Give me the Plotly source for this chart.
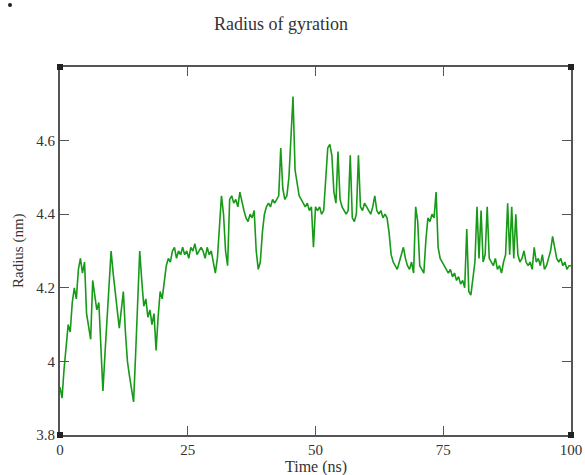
import plotly.graph_objects as go

time_step_ns = 0.4
radius_nm = [
    3.93, 3.90, 3.98, 4.05, 4.10, 4.08, 4.16, 4.20, 4.17, 4.25,
    4.28, 4.24, 4.27, 4.13, 4.10, 4.06, 4.22, 4.18, 4.14, 4.16,
    4.05, 3.92, 4.02, 4.11, 4.18, 4.30, 4.24, 4.19, 4.14, 4.09,
    4.14, 4.19, 4.08, 4.00, 3.96, 3.93, 3.89, 4.02, 4.14, 4.30,
    4.22, 4.15, 4.17, 4.12, 4.14, 4.10, 4.13, 4.03, 4.12, 4.19,
    4.17, 4.21, 4.26, 4.28, 4.27, 4.30, 4.31, 4.28, 4.30, 4.29,
    4.31, 4.29, 4.30, 4.28, 4.31, 4.30, 4.32, 4.29, 4.30, 4.31,
    4.30, 4.28, 4.31, 4.29, 4.30, 4.27, 4.24, 4.28, 4.38, 4.45,
    4.40, 4.30, 4.26, 4.44, 4.45, 4.43, 4.44, 4.42, 4.46, 4.43,
    4.41, 4.39, 4.38, 4.40, 4.39, 4.41, 4.30, 4.25, 4.27, 4.35,
    4.40, 4.42, 4.43, 4.42, 4.44, 4.43, 4.44, 4.45, 4.58, 4.47,
    4.44, 4.45, 4.50, 4.61, 4.72, 4.52, 4.48, 4.45, 4.44, 4.43,
    4.42, 4.43, 4.41, 4.42, 4.31, 4.42, 4.41, 4.42, 4.40, 4.41,
    4.50, 4.58, 4.59, 4.56, 4.46, 4.43, 4.57, 4.44, 4.42, 4.41,
    4.40, 4.41, 4.56, 4.39, 4.38, 4.40, 4.56, 4.42, 4.41, 4.43,
    4.42, 4.41, 4.40, 4.42, 4.45, 4.41, 4.40, 4.41, 4.39, 4.40,
    4.39, 4.35, 4.29, 4.27, 4.26, 4.25, 4.27, 4.29, 4.31, 4.28,
    4.26, 4.25, 4.27, 4.24, 4.42, 4.38, 4.26, 4.25, 4.24, 4.33,
    4.39, 4.38, 4.40, 4.39, 4.46, 4.31, 4.28, 4.27, 4.26, 4.25,
    4.24, 4.25, 4.23, 4.24, 4.22, 4.23, 4.21, 4.22, 4.20, 4.36,
    4.19, 4.18, 4.23, 4.27, 4.42, 4.28, 4.41, 4.27, 4.29, 4.42,
    4.28, 4.27, 4.26, 4.28, 4.25, 4.26, 4.24, 4.27, 4.29, 4.43,
    4.29, 4.42, 4.28, 4.40, 4.29, 4.27, 4.28, 4.30, 4.27, 4.26,
    4.27, 4.25, 4.31, 4.27, 4.28, 4.26, 4.29, 4.25, 4.26, 4.28,
    4.30, 4.34, 4.31, 4.28, 4.27, 4.28, 4.26, 4.27, 4.25, 4.26,
    4.26,
]
time_ns = [round(i * time_step_ns, 2) for i in range(len(radius_nm))]

x_tick_vals = [0, 25, 50, 75, 100]
x_tick_text = ["0", "25", "50", "75", "100"]
y_tick_vals = [3.8, 4.0, 4.2, 4.4, 4.6]
y_tick_text = ["3.8", "4", "4.2", "4.4", "4.6"]

FONT = "Liberation Serif, Times New Roman, serif"
AXIS_COLOR = "#555555"
TEXT_COLOR = "#333333"

FIG_W, FIG_H = 585, 475

fig = go.Figure()
fig.add_trace(go.Scatter(
    x=time_ns, y=radius_nm, mode="lines",
    line=dict(color="#179a17", width=1.6),
    showlegend=False, hoverinfo="skip",
))

axis_common = dict(
    showline=True, linecolor=AXIS_COLOR, linewidth=2,
    mirror="ticks", ticks="inside", ticklen=9, tickwidth=1,
    tickcolor=AXIS_COLOR, showgrid=False, zeroline=False,
    automargin=False,
    tickfont=dict(family=FONT, size=15, color=TEXT_COLOR),
)

fig.update_layout(
    width=FIG_W, height=FIG_H,
    margin=dict(l=60, r=14, t=67, b=40),
    paper_bgcolor="white", plot_bgcolor="white",
    title=dict(text="Radius of gyration", x=281 / FIG_W, xanchor="center",
               y=1 - 24 / FIG_H, yanchor="middle",
               font=dict(family=FONT, size=18, color=TEXT_COLOR)),
    xaxis=dict(range=[0, 100], tickvals=x_tick_vals, ticktext=x_tick_text,
               ticklabelstandoff=0, **axis_common),
    yaxis=dict(range=[3.8, 4.8], tickvals=y_tick_vals, ticktext=y_tick_text,
               **axis_common),
)

fig.add_annotation(text="Time (ns)", xref="paper", yref="paper",
                   x=0.5, y=0, yshift=-32, xanchor="center", yanchor="middle",
                   showarrow=False,
                   font=dict(family=FONT, size=16, color=TEXT_COLOR))
fig.add_annotation(text="Radius (nm)", xref="paper", yref="paper",
                   x=0, y=0.5, xshift=-42, xanchor="center", yanchor="middle",
                   textangle=-90, showarrow=False,
                   font=dict(family=FONT, size=15, color=TEXT_COLOR))

# corner markers of the frame (Grace style)
for cx, cy in [(0, 0), (1, 0), (0, 1), (1, 1)]:
    fig.add_shape(type="rect", xref="paper", yref="paper",
                  x0=-3, x1=3, y0=-3, y1=3,
                  xsizemode="pixel", ysizemode="pixel",
                  xanchor=cx, yanchor=cy,
                  line=dict(width=0), fillcolor="#222222")

# small stray dot near the top-left corner of the page
fig.add_shape(type="circle", xref="paper", yref="paper",
              x0=-2, x1=2, y0=-2, y1=2,
              xsizemode="pixel", ysizemode="pixel",
              xanchor=-50 / 511, yanchor=1 + 62 / 368,
              line=dict(width=0), fillcolor="#222222")

fig.write_html(
    "out.html",
    config={"displayModeBar": False},
    post_script="document.body.style.margin='0';"
                "document.body.style.overflow='hidden';",
)
